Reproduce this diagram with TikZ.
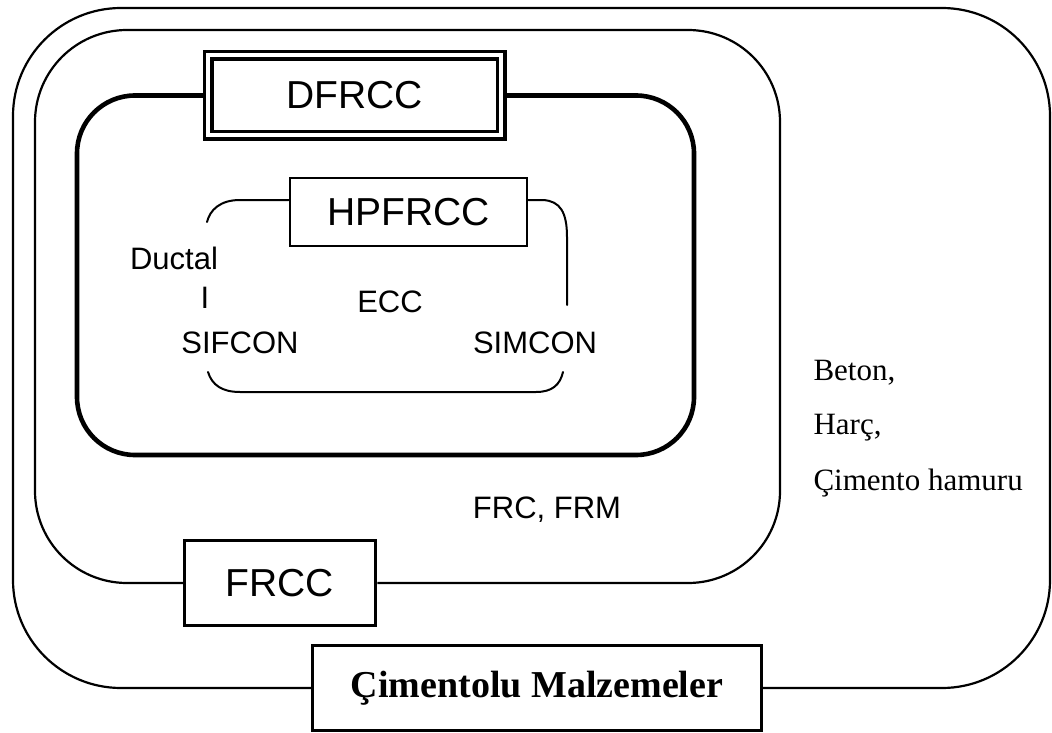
\documentclass[tikz,border=0pt]{standalone}
\usepackage{fontspec}
\setmainfont{Liberation Serif}
\newfontfamily\gothic{Liberation Sans}
\usetikzlibrary{backgrounds}

\tikzset{
  frame/.style={line width=2.2pt, line join=round},
  thickframe/.style={line width=4.6pt, line join=round},
  bracket/.style={line width=2pt, line cap=round},
  labelbox/.style={draw, fill=white, inner sep=0pt, line width=3pt},
  gothicbig/.style={font=\gothic\fontsize{39}{39}\selectfont},
  gothicmid/.style={font=\gothic\fontsize{31}{31}\selectfont},
  serifbold/.style={font=\bfseries\fontsize{38}{38}\selectfont},
  serifmid/.style={font=\fontsize{31}{31}\selectfont, anchor=base west}
}

\begin{document}
\begin{tikzpicture}[x=1pt, y=-1pt]
  \useasboundingbox (0,0) rectangle (1052,733);

  % labelled boxes
  \node[labelbox, minimum width=449pt, minimum height=84.5pt, serifbold]
    (cim) at (537,688) {Çimentolu Malzemeler};
  \node[labelbox, minimum width=191.5pt, minimum height=85.5pt, gothicbig]
    (frcc) at (280,583) {FRCC};
  \node[labelbox, line width=3.5pt, double, double distance=4pt,
        minimum width=293pt, minimum height=80pt, gothicbig]
    (dfrcc) at (354.5,95.5) {DFRCC};
  \node[labelbox, line width=2.6pt, minimum width=237pt, minimum height=68pt, gothicbig]
    (hp) at (408.5,212) {HPFRCC};

  % free ends of the HPFRCC brackets
  \coordinate (tlend) at (207,222);
  \coordinate (trend) at (567,305);
  \coordinate (blend) at (208,372);
  \coordinate (brend) at (563,372);

  \begin{pgfonlayer}{background}
    % outer frame: cementitious materials
    \draw[frame, rounded corners=108pt]
      (cim.east) -- (1050,688) -- (1050,8) -- (13,8) -- (13,688) -- (cim.west);
    % FRCC frame
    \draw[frame, rounded corners=92pt]
      (frcc.east) -- (780,583) -- (780,30) -- (35,30) -- (35,583) -- (frcc.west);
    % DFRCC frame
    \draw[thickframe, rounded corners=58pt]
      (dfrcc.east) -- (694,95.5) -- (694,455) -- (77,455) -- (77,95.5) -- (dfrcc.west);
    % HPFRCC brackets
    \draw[bracket] (hp.west |- 0,200) -- (240,200)
      .. controls (220,200) and (210,210) .. (tlend);
    \draw[bracket] (hp.east |- 0,200) -- (543,200)
      .. controls (560,201) and (567,212) .. (567,237) -- (trend);
    \draw[bracket] (blend) .. controls (212,385) and (222,392) .. (240,392)
      -- (536,392) .. controls (552,392) and (560,385) .. (brend);
  \end{pgfonlayer}

  % inner labels
  \node[gothicmid] (ductal) at (174,258) {Ductal};
  \node[gothicmid] (bar) at (205,298) {I};
  \node[gothicmid] (sifcon) at (240,343) {SIFCON};
  \node[gothicmid] (ecc) at (390,302) {ECC};
  \node[gothicmid] (simcon) at (535,343) {SIMCON};
  \node[gothicmid] (frc) at (547,510) {FRC, FRM};

  % right-hand list
  \node[serifmid] (beton) at (810,380) {Beton,};
  \node[serifmid] (harc) at (810,434) {Harç,};
  \node[serifmid] (hamur) at (810,490) {Çimento hamuru};
\end{tikzpicture}
\end{document}
